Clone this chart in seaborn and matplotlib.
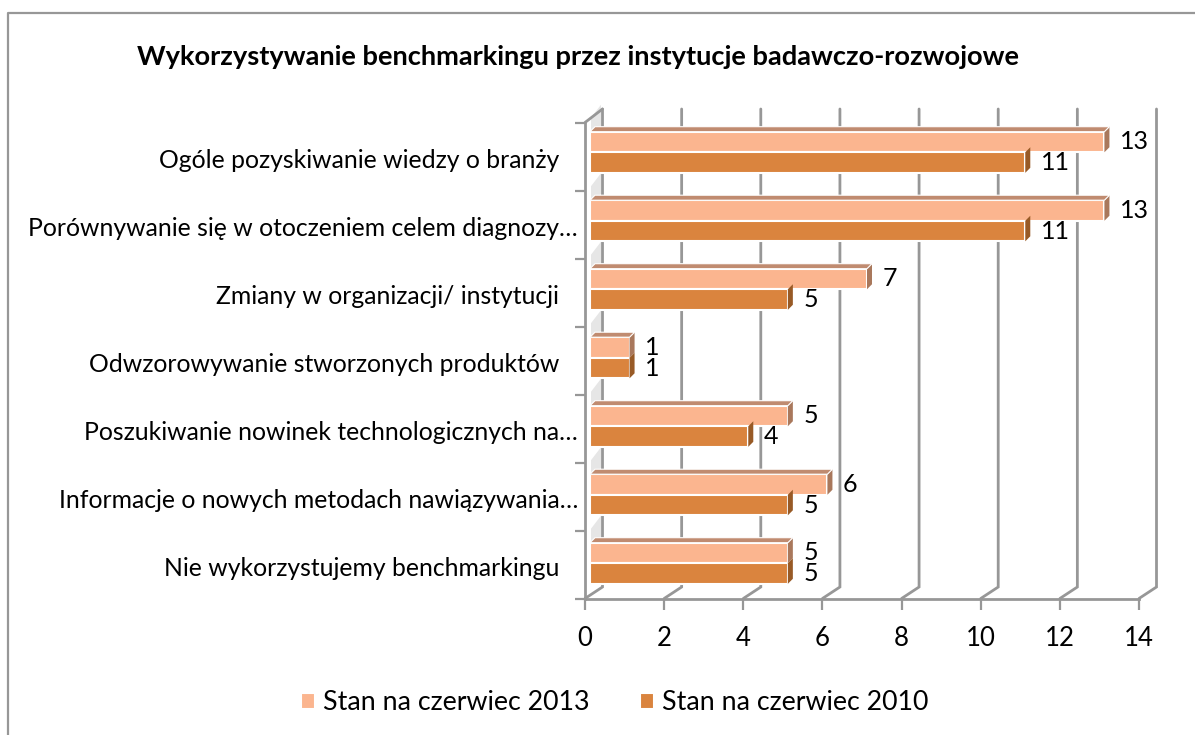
import numpy as np
import pandas as pd
import seaborn as sns
import matplotlib.pyplot as plt
from matplotlib.patches import Polygon
from matplotlib.transforms import ScaledTranslation

categories = ['Ogóle pozyskiwanie wiedzy o branży   ',
              'Porównywanie się w otoczeniem celem diagnozy…',
              'Zmiany w organizacji/ instytucji   ',
              'Odwzorowywanie stworzonych produktów   ',
              'Poszukiwanie nowinek technologicznych na…',
              'Informacje o nowych metodach nawiązywania…',
              'Nie wykorzystujemy benchmarkingu   ']
stan_2013 = [13, 13, 7, 1, 5, 6, 5]
stan_2010 = [11, 11, 5, 1, 4, 5, 5]
series = ['Stan na czerwiec 2013', 'Stan na czerwiec 2010']
title = 'Wykorzystywanie benchmarkingu przez instytucje badawczo-rozwojowe'
xticks = [0, 2, 4, 6, 8, 10, 12, 14]

W, H = 1195, 735
GRAY = '#979797'
COLORS = ['#FBB58F', '#DA843E']
TOPS = ['#C08B70', '#C08B70']
SIDES = ['#A9785C', '#985A26']

sns.set_style('white')
plt.rcParams['font.family'] = ['Lato', 'DejaVu Sans']
plt.rcParams['text.color'] = 'black'
plt.rcParams['xtick.labelcolor'] = 'black'
plt.rcParams['ytick.labelcolor'] = 'black'


def rect(left, top, right, bottom):
    return [left / W, 1 - bottom / H, (right - left) / W, (bottom - top) / H]


df = pd.DataFrame({
    'cat': categories * 2,
    'val': stan_2013 + stan_2010,
    'stan': [series[0]] * 7 + [series[1]] * 7,
})

fig = plt.figure(figsize=(W / 100, H / 100), dpi=100)

# pixel canvas for the chart frame and the 3d walls
canvas = fig.add_axes([0, 0, 1, 1], zorder=0)
canvas.set_xlim(0, W)
canvas.set_ylim(H, 0)
canvas.axis('off')
canvas.plot([8, 8, W], [H, 13, 13], color=GRAY, lw=1.6)

# front axis: ticks and labels
front = fig.add_axes(rect(585, 122.5, 1139, 598.5), zorder=1)
front.patch.set_visible(False)
front.set_xlim(0, 14)
front.set_ylim(6.5, -0.5)
front.set_xticks(xticks)
front.set_xticklabels(xticks, fontsize=18.5)
front.set_yticks(range(7))
front.set_yticklabels(categories, fontsize=17.8)
front.set_yticks(np.arange(-0.5, 7), minor=True)
front.tick_params(axis='y', which='major', length=0, pad=5)
front.tick_params(axis='y', which='minor', length=7, width=1.6, color=GRAY, left=True)
front.tick_params(axis='x', length=8, width=1.6, color=GRAY, pad=12, bottom=True)
for s in ['top', 'right']:
    front.spines[s].set_visible(False)
for s in ['left', 'bottom']:
    front.spines[s].set_color(GRAY)
    front.spines[s].set_linewidth(2)
down = ScaledTranslation(0, -1.5 / 100, fig.dpi_scale_trans)
for label in front.get_yticklabels():
    label.set_transform(label.get_transform() + down)

# back wall grid lines with the floor diagonals
unit = (1139 - 585) / 14
for t in xticks:
    x0 = 585 + t * unit
    canvas.plot([x0, x0 + 17.5, x0 + 17.5], [598.5, 587, 109], color=GRAY, lw=2,
                solid_joinstyle='miter')
canvas.plot([585, 602.5], [122.5, 109], color=GRAY, lw=2)

# bars
ax = fig.add_axes(rect(590, 118, 1144, 597.5), zorder=2)
ax.patch.set_visible(False)
sns.barplot(data=df, x='val', y='cat', hue='stan', hue_order=series, order=categories,
            palette=COLORS, width=0.6, saturation=1, edgecolor='white', linewidth=1.5,
            orient='h', ax=ax, legend=True)
ax.set_xlim(0, 14)
ax.set_ylim(6.5, -0.5)
ax.axis('off')

fig.canvas.draw()
to_px = ax.transData + canvas.transData.inverted()
dx, dy = 5, 5
for c, container in enumerate(ax.containers):
    for bar in container:
        (x0, y0), (x1, y1) = to_px.transform(bar.get_bbox().get_points())
        y_top, y_bot = min(y0, y1), max(y0, y1)
        # side face of the bar
        ax.add_patch(Polygon([(x1, y_top), (x1 + dx, y_top - dy), (x1 + dx, y_bot - dy), (x1, y_bot)],
                             closed=True, fc=SIDES[c], ec='none',
                             transform=canvas.transData, clip_on=False))
        # top face only on the upper bar of a group
        if c == 0:
            ax.add_patch(Polygon([(x0, y_top), (x0 + dx, y_top - dy), (x1 + dx, y_top - dy), (x1, y_top)],
                                 closed=True, fc=TOPS[c], ec='white', lw=0.8,
                                 transform=canvas.transData, clip_on=False))
            # left wall shading in the gap above the group
            canvas.add_patch(Polygon([(x0 + 1, y_top - 14), (x0 + 11, y_top - 27),
                                      (x0 + 11, y_top - 6), (x0 + 1, y_top + 2)],
                                     closed=True, fc='#e6e6e6', ec='none'))
    ax.bar_label(container, padding=11, fontsize=18)

handles, labels = ax.get_legend_handles_labels()
ax.get_legend().remove()
fig.legend(handles, labels, ncol=2, loc='center', bbox_to_anchor=(615 / W, 1 - 703 / H),
           frameon=False, fontsize=19.3, handlelength=0.52, handleheight=0.52,
           handletextpad=0.3, columnspacing=1.87, borderpad=0)

fig.text(578 / W, 1 - 57 / H, title, fontsize=19.6, fontweight='bold', ha='center', va='center')

fig.savefig('out.png', dpi=100)
